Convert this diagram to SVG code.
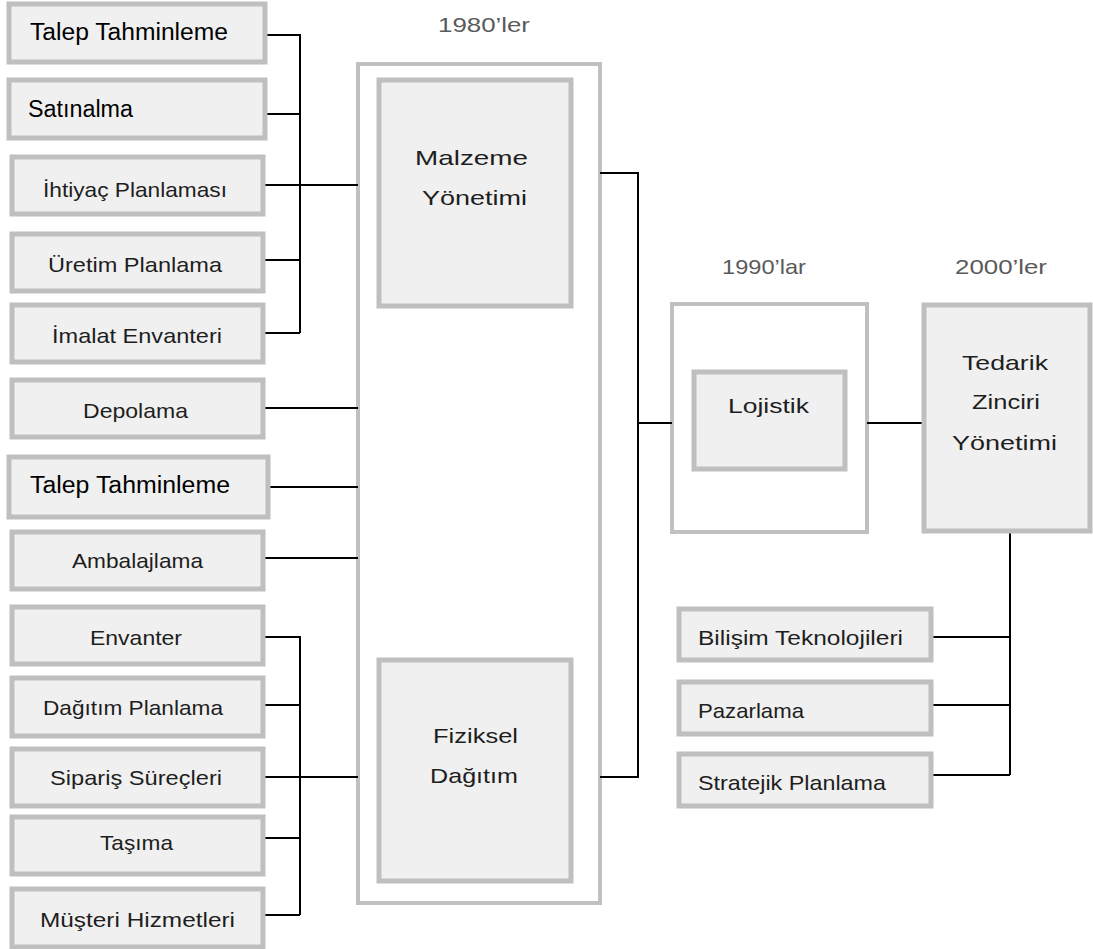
<svg xmlns="http://www.w3.org/2000/svg" width="1093" height="949" viewBox="0 0 1093 949">
<style>
.box{fill:#f0f0f0;stroke:#bfbfbf;stroke-width:5}
.frame{fill:#ffffff;stroke:#c0c0c0;stroke-width:4}
.t{font-family:"Liberation Sans",Arial,sans-serif;font-size:21px;fill:#1e1e1e}
.big{font-size:23px;fill:#000}
.yr{font-family:"Liberation Sans",Arial,sans-serif;font-size:21px;fill:#5a5a5a}
.c{fill:none;stroke:#000;stroke-width:2}
</style>
<rect width="1093" height="949" fill="#fff"/>
<g id="frame1980"><rect class="frame" x="358" y="64" width="242" height="839"/></g>
<g id="frame1990"><rect class="frame" x="672" y="304" width="195" height="228"/></g>
<g id="connectors">
<path class="c" d="M265 35H300V333M265 114H300M263 185H358M263 260H300M263 333H300"/>
<path class="c" d="M263 408H358M268 487H358M263 558H358"/>
<path class="c" d="M263 637H300V915M263 705H300M263 777H358M263 838H300M263 915H300"/>
<path class="c" d="M600 173H638V777H600M638 423H672M867 423H922"/>
<path class="c" d="M1010 532V775M932 637H1010M932 705H1010M932 775H1010"/>
</g>
<text class="yr" x="438" y="32" textLength="92" lengthAdjust="spacingAndGlyphs">1980’ler</text>
<text class="yr" x="722" y="274" textLength="84" lengthAdjust="spacingAndGlyphs">1990’lar</text>
<text class="yr" x="955" y="274" textLength="92" lengthAdjust="spacingAndGlyphs">2000’ler</text>
<g id="n1"><rect class="box" x="9" y="4" width="256" height="58"/><text class="t big" x="30" y="40" textLength="198" lengthAdjust="spacingAndGlyphs">Talep Tahminleme</text></g>
<g id="n2"><rect class="box" x="9" y="80" width="256" height="58"/><text class="t big" x="28" y="117" textLength="105" lengthAdjust="spacingAndGlyphs">Satınalma</text></g>
<g id="n3"><rect class="box" x="12" y="157" width="251" height="57"/><text class="t" x="43" y="197" textLength="184" lengthAdjust="spacingAndGlyphs">İhtiyaç Planlaması</text></g>
<g id="n4"><rect class="box" x="12" y="234" width="251" height="57"/><text class="t" x="48" y="272" textLength="174" lengthAdjust="spacingAndGlyphs">Üretim Planlama</text></g>
<g id="n5"><rect class="box" x="12" y="305" width="251" height="57"/><text class="t" x="52" y="343" textLength="170" lengthAdjust="spacingAndGlyphs">İmalat Envanteri</text></g>
<g id="n6"><rect class="box" x="12" y="380" width="251" height="57"/><text class="t" x="83" y="418" textLength="105" lengthAdjust="spacingAndGlyphs">Depolama</text></g>
<g id="n7"><rect class="box" x="9" y="457" width="259" height="60"/><text class="t big" x="30" y="493" textLength="200" lengthAdjust="spacingAndGlyphs">Talep Tahminleme</text></g>
<g id="n8"><rect class="box" x="12" y="532" width="251" height="57"/><text class="t" x="72" y="568" textLength="131" lengthAdjust="spacingAndGlyphs">Ambalajlama</text></g>
<g id="n9"><rect class="box" x="12" y="607" width="251" height="57"/><text class="t" x="90" y="645" textLength="92" lengthAdjust="spacingAndGlyphs">Envanter</text></g>
<g id="n10"><rect class="box" x="12" y="678" width="251" height="58"/><text class="t" x="43" y="715" textLength="180" lengthAdjust="spacingAndGlyphs">Dağıtım Planlama</text></g>
<g id="n11"><rect class="box" x="12" y="749" width="251" height="57"/><text class="t" x="50" y="785" textLength="172" lengthAdjust="spacingAndGlyphs">Sipariş Süreçleri</text></g>
<g id="n12"><rect class="box" x="12" y="817" width="251" height="57"/><text class="t" x="100" y="850" textLength="73" lengthAdjust="spacingAndGlyphs">Taşıma</text></g>
<g id="n13"><rect class="box" x="12" y="889" width="251" height="58"/><text class="t" x="40" y="927" textLength="195" lengthAdjust="spacingAndGlyphs">Müşteri Hizmetleri</text></g>
<g id="malzeme"><rect class="box" x="379" y="80" width="192" height="226"/><text class="t" x="415" y="165" textLength="113" lengthAdjust="spacingAndGlyphs">Malzeme</text><text class="t" x="422" y="205" textLength="105" lengthAdjust="spacingAndGlyphs">Yönetimi</text></g>
<g id="fiziksel"><rect class="box" x="379" y="660" width="192" height="221"/><text class="t" x="433" y="743" textLength="85" lengthAdjust="spacingAndGlyphs">Fiziksel</text><text class="t" x="430" y="783" textLength="88" lengthAdjust="spacingAndGlyphs">Dağıtım</text></g>
<g id="lojistik"><rect class="box" x="694" y="372" width="151" height="97"/><text class="t" x="728" y="413" textLength="81" lengthAdjust="spacingAndGlyphs">Lojistik</text></g>
<g id="tedarik"><rect class="box" x="924" y="305" width="166" height="226"/><text class="t" x="962" y="370" textLength="86" lengthAdjust="spacingAndGlyphs">Tedarik</text><text class="t" x="972" y="409" textLength="68" lengthAdjust="spacingAndGlyphs">Zinciri</text><text class="t" x="952" y="450" textLength="105" lengthAdjust="spacingAndGlyphs">Yönetimi</text></g>
<g id="bilisim"><rect class="box" x="679" y="609" width="252" height="51"/><text class="t" x="698" y="645" textLength="205" lengthAdjust="spacingAndGlyphs">Bilişim Teknolojileri</text></g>
<g id="pazarlama"><rect class="box" x="679" y="682" width="252" height="52"/><text class="t" x="698" y="718" textLength="106" lengthAdjust="spacingAndGlyphs">Pazarlama</text></g>
<g id="stratejik"><rect class="box" x="679" y="754" width="252" height="52"/><text class="t" x="698" y="790" textLength="188" lengthAdjust="spacingAndGlyphs">Stratejik Planlama</text></g>
</svg>
